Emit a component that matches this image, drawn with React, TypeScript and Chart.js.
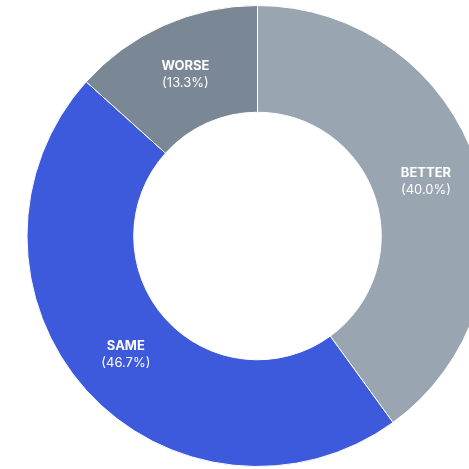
import React, { useEffect, useRef } from "react";
import { Chart, registerables } from "chart.js";

Chart.register(...registerables);

const categories = ["BETTER", "SAME", "WORSE"];
const values = [6, 7, 2];
const colors = ["#99a5b1", "#3d59dc", "#7a8896"];

const labelPlugin = {
  id: "sliceLabels",
  afterDatasetsDraw(chart: any) {
    const ctx = chart.ctx;
    const meta = chart.getDatasetMeta(0);
    const data = chart.data.datasets[0].data as number[];
    const total = data.reduce((a, b) => a + b, 0);
    ctx.save();
    ctx.fillStyle = "#ffffff";
    ctx.textAlign = "center";
    ctx.textBaseline = "middle";
    meta.data.forEach((arc: any, i: number) => {
      const p = arc.getProps(["x", "y", "startAngle", "endAngle", "innerRadius", "outerRadius"], true);
      const mid = (p.startAngle + p.endAngle) / 2;
      const r = (p.innerRadius + p.outerRadius) / 2;
      const cx = p.x + Math.cos(mid) * r;
      const cy = p.y + Math.sin(mid) * r;
      ctx.font = "700 13px Inter";
      ctx.fillText(String(chart.data.labels[i]), cx, cy - 8);
      ctx.font = "400 13px Inter";
      ctx.fillText("(" + ((data[i] / total) * 100).toFixed(1) + "%)", cx, cy + 9);
    });
    ctx.restore();
  },
};

export default function App() {
  const ref = useRef<HTMLCanvasElement>(null);
  useEffect(() => {
    if (!ref.current) return;
    const chart = new Chart(ref.current, {
      type: "doughnut",
      data: {
        labels: categories,
        datasets: [
          {
            data: values,
            backgroundColor: colors,
            borderColor: "#ffffff",
            borderWidth: 1,
            hoverOffset: 0,
          },
        ],
      },
      options: {
        responsive: false,
        devicePixelRatio: 1,
        animation: false,
        cutout: "53.7%",
        layout: { padding: 0 },
        plugins: {
          legend: { display: false },
          tooltip: { enabled: false },
        },
      },
      plugins: [labelPlugin],
    });
    return () => chart.destroy();
  }, []);
  return (
    <div
      style={{
        position: "fixed",
        left: 0,
        top: 0,
        width: 469,
        height: 469,
        overflow: "hidden",
        background: "#ffffff",
      }}
    >
      <canvas
        ref={ref}
        width={515}
        height={462}
        style={{ position: "absolute", left: 0, top: 5, width: 515, height: 462 }}
      />
    </div>
  );
}
